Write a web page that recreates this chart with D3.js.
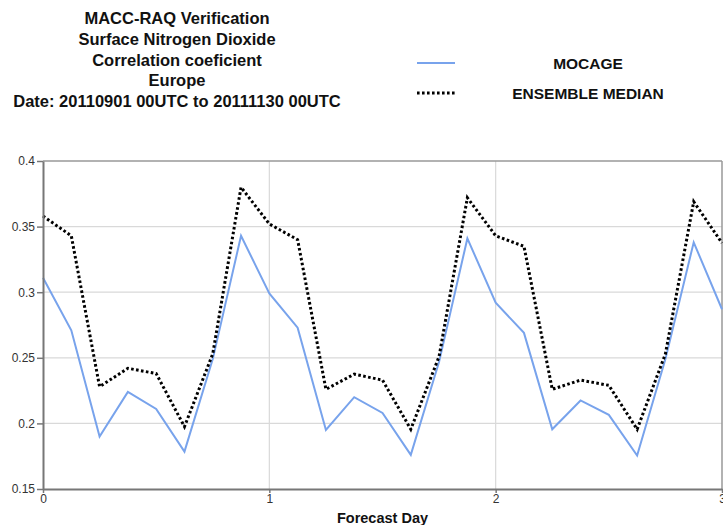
<!DOCTYPE html>
<html>
<head>
<meta charset="utf-8">
<script src="https://cdn.jsdelivr.net/npm/d3@7"></script>
<style>
  body { margin: 0; background: #fff; }
  svg { font-family: "Liberation Sans", Arial, sans-serif; }
</style>
</head>
<body>
<div id="chart"></div>
<script>
// Forecast steps, every 3 hours over 3 days
var steps = d3.range(25).map(function(k) { return k / 8; });

var mocage = [0.311, 0.271, 0.190, 0.224, 0.211, 0.1785, 0.249, 0.343, 0.299,
  0.273, 0.195, 0.220, 0.208, 0.176, 0.247, 0.341, 0.292, 0.269, 0.1955,
  0.2175, 0.2065, 0.1755, 0.249, 0.338, 0.287];
var ensembleMedian = [0.358, 0.343, 0.228, 0.242, 0.238, 0.1975, 0.253, 0.380,
  0.352, 0.340, 0.226, 0.2375, 0.233, 0.1955, 0.251, 0.372, 0.343, 0.335,
  0.226, 0.233, 0.229, 0.1955, 0.253, 0.369, 0.3375];

var xTicks = [0, 1, 2, 3];
var yTicks = [0.15, 0.2, 0.25, 0.3, 0.35, 0.4];

var titleLines = ['MACC-RAQ Verification', 'Surface Nitrogen Dioxide',
  'Correlation coeficient', 'Europe', 'Date: 20110901 00UTC to 20111130 00UTC'];

var svgWidth = 723;
var svgHeight = 525;
var margin = { top: 161, right: 1, bottom: 36, left: 43 };
var chartWidth = svgWidth - margin.left - margin.right;
var chartHeight = svgHeight - margin.top - margin.bottom;

var svg = d3.select('#chart')
  .append('svg')
  .attr('width', svgWidth)
  .attr('height', svgHeight);

// Title block
svg.append('g').selectAll('text')
  .data(titleLines)
  .enter()
  .append('text')
  .attr('x', 177)
  .attr('y', function(d, i) { return 24 + i * 20.8; })
  .attr('text-anchor', 'middle')
  .attr('font-size', '16.5px')
  .attr('font-weight', 'bold')
  .attr('fill', '#111')
  .text(function(d) { return d; });

var chartGroup = svg.append('g')
  .attr('transform', `translate(${margin.left}, ${margin.top})`);

var xScale = d3.scaleLinear().domain([0, 3]).range([0, chartWidth]);
var yScale = d3.scaleLinear().domain([0.15, 0.4]).range([chartHeight, 0]);

// Gridlines
chartGroup.append('g')
  .selectAll('line')
  .data(yTicks.slice(1, -1))
  .enter()
  .append('line')
  .attr('x1', 0).attr('x2', chartWidth)
  .attr('y1', d => yScale(d)).attr('y2', d => yScale(d))
  .attr('stroke', '#d9d9d9').attr('stroke-width', 1.2);

chartGroup.append('g')
  .selectAll('line')
  .data([1, 2])
  .enter()
  .append('line')
  .attr('x1', d => xScale(d)).attr('x2', d => xScale(d))
  .attr('y1', 0).attr('y2', chartHeight)
  .attr('stroke', '#d9d9d9').attr('stroke-width', 1.2);

// Frame top and right
chartGroup.append('line')
  .attr('x1', 0).attr('x2', chartWidth).attr('y1', 0).attr('y2', 0)
  .attr('stroke', '#999').attr('stroke-width', 1.5);
chartGroup.append('line')
  .attr('x1', chartWidth).attr('x2', chartWidth).attr('y1', 0).attr('y2', chartHeight)
  .attr('stroke', '#999').attr('stroke-width', 1.5);

// Lines
var lineGen = d3.line()
  .x((d, i) => xScale(steps[i]))
  .y(d => yScale(d));

chartGroup.append('path')
  .datum(mocage)
  .attr('d', lineGen)
  .attr('fill', 'none')
  .attr('stroke', '#78a3ec')
  .attr('stroke-width', 2);

chartGroup.append('path')
  .datum(ensembleMedian)
  .attr('d', lineGen)
  .attr('fill', 'none')
  .attr('stroke', '#000')
  .attr('stroke-width', 3)
  .attr('stroke-dasharray', '2.6,2.4');

// Axes
var xAxis = d3.axisBottom(xScale).tickValues(xTicks).tickFormat(d3.format('d'))
  .tickSize(4).tickSizeOuter(0);
var yAxis = d3.axisLeft(yScale).tickValues(yTicks).tickFormat(d => String(d))
  .tickSize(6).tickSizeOuter(0);

var gx = chartGroup.append('g')
  .attr('transform', `translate(0, ${chartHeight})`)
  .call(xAxis);
var gy = chartGroup.append('g').call(yAxis);

[gx, gy].forEach(function(g) {
  g.select('.domain').attr('stroke', '#777').attr('stroke-width', 2);
  g.selectAll('.tick line').attr('stroke', '#777').attr('stroke-width', 1.5);
  g.selectAll('.tick text')
    .attr('font-family', '"Liberation Sans", Arial, sans-serif')
    .attr('font-size', '12px')
    .attr('fill', '#333');
});
gx.selectAll('.tick text').attr('dy', '0.55em');
gy.selectAll('.tick text').attr('x', -8);

// Axis label
chartGroup.append('text')
  .attr('x', chartWidth / 2)
  .attr('y', chartHeight + 34)
  .attr('text-anchor', 'middle')
  .attr('font-size', '14.5px')
  .attr('font-weight', 'bold')
  .attr('fill', '#111')
  .text('Forecast Day');

// Legend
var legendItems = [
  { name: 'MOCAGE', color: '#78a3ec', width: 2, dash: null },
  { name: 'ENSEMBLE MEDIAN', color: '#000', width: 3, dash: '2.6,2.4' }
];

var legend = svg.append('g').selectAll('g')
  .data(legendItems)
  .enter()
  .append('g')
  .attr('transform', (d, i) => `translate(0, ${63 + i * 30})`);

legend.append('line')
  .attr('x1', 417).attr('x2', 455)
  .attr('y1', 0).attr('y2', 0)
  .attr('stroke', d => d.color)
  .attr('stroke-width', d => d.width)
  .attr('stroke-dasharray', d => d.dash);

legend.append('text')
  .attr('x', 588)
  .attr('y', 6)
  .attr('text-anchor', 'middle')
  .attr('font-size', '15.5px')
  .attr('font-weight', 'bold')
  .attr('fill', '#111')
  .text(d => d.name);
</script>
</body>
</html>
